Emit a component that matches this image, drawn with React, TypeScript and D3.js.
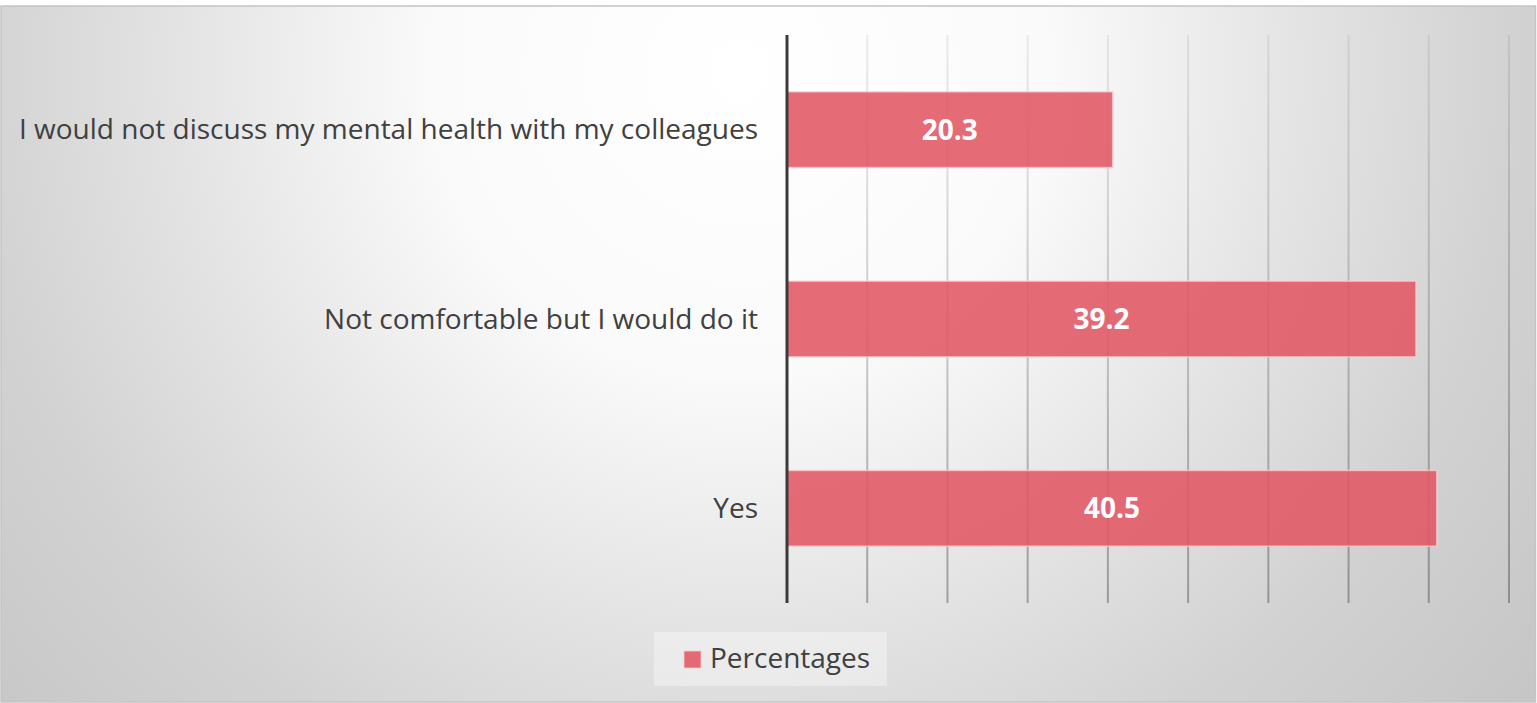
import * as d3 from 'd3'

const categories = [
  'I would not discuss my mental health with my colleagues',
  'Not comfortable but I would do it',
  'Yes',
]
const percentages = [20.3, 39.2, 40.5]
const seriesName = 'Percentages'
const xMax = 45

const W = 1537
const H = 703
const plot = { left: 787, right: 1509, top: 35, bottom: 603 }
const FONT = "'Open Sans', 'Liberation Sans', sans-serif"

export default function App() {
  const x = d3.scaleLinear().domain([0, xMax]).range([plot.left, plot.right])
  const y = d3
    .scaleBand<string>()
    .domain(categories)
    .range([plot.top, plot.bottom])
    .paddingInner(0.6)
    .paddingOuter(0.3)
  const ticks = x.ticks(9)

  return (
    <svg
      width={W}
      height={H}
      style={{ position: 'absolute', left: 0, top: 0, display: 'block' }}
      fontFamily={FONT}
    >
      <defs>
        <radialGradient id="bg" gradientUnits="userSpaceOnUse" cx={740} cy={70} r={1030}>
          <stop offset="0" stopColor="#ffffff" />
          <stop offset="0.3" stopColor="#fafafa" />
          <stop offset="0.55" stopColor="#e3e3e3" />
          <stop offset="0.75" stopColor="#d2d2d2" />
          <stop offset="1" stopColor="#c5c5c5" />
        </radialGradient>
        <linearGradient id="grid" gradientUnits="userSpaceOnUse" x1={0} y1={plot.top} x2={0} y2={plot.bottom}>
          <stop offset="0" stopColor="#000" stopOpacity={0.07} />
          <stop offset="1" stopColor="#000" stopOpacity={0.3} />
        </linearGradient>
      </defs>

      {/* chart area */}
      <rect x={1} y={6} width={W - 2.5} height={H - 7} fill="url(#bg)" stroke="#c4c4c4" strokeWidth={1.5} />

      {/* gridlines */}
      {ticks.slice(1).map((t) => (
        <line
          key={t}
          x1={x(t)}
          x2={x(t)}
          y1={plot.top}
          y2={plot.bottom}
          stroke="url(#grid)"
          strokeWidth={2}
        />
      ))}

      {/* bars */}
      {categories.map((c, i) => (
        <g key={c}>
          <rect
            x={x(0)}
            y={y(c)}
            width={x(percentages[i]) - x(0)}
            height={y.bandwidth()}
            fill="rgba(225,86,100,0.88)"
            stroke="rgba(255,205,210,0.75)"
            strokeWidth={1.5}
          />
          <text
            x={(x(0) + x(percentages[i])) / 2}
            y={(y(c) as number) + y.bandwidth() / 2}
            dy="0.36em"
            textAnchor="middle"
            fill="#ffffff"
            fontWeight="bold"
            fontSize={28}
          >
            {percentages[i].toFixed(1)}
          </text>
          <text
            x={758}
            y={(y(c) as number) + y.bandwidth() / 2}
            dy="0.34em"
            textAnchor="end"
            fill="#404040"
            fontSize={28}
          >
            {c}
          </text>
        </g>
      ))}

      {/* axis line */}
      <line x1={x(0)} x2={x(0)} y1={plot.top} y2={plot.bottom} stroke="#3a3a3a" strokeWidth={3} />

      {/* legend */}
      <rect x={654} y={632} width={233} height={54} fill="rgba(255,255,255,0.35)" />
      <rect x={684} y={651} width={17} height={17} fill="rgba(225,86,100,0.88)" stroke="rgba(255,205,210,0.75)" strokeWidth={1} />
      <text x={710} y={668} fill="#404040" fontSize={28}>
        {seriesName}
      </text>
    </svg>
  )
}
